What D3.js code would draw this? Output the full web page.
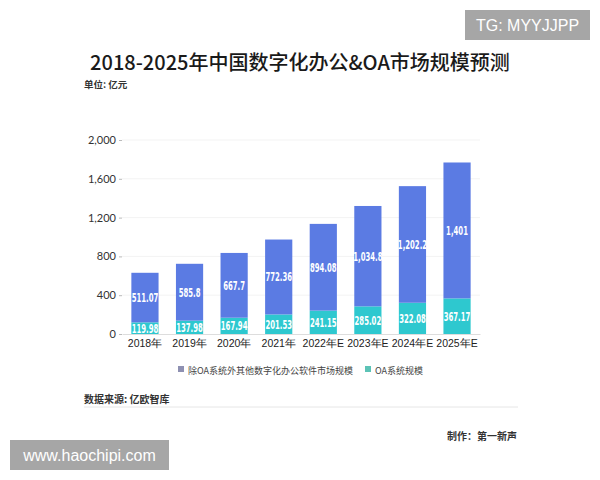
<!DOCTYPE html>
<html><head><meta charset="utf-8">
<script src="https://cdn.jsdelivr.net/npm/d3@7"></script>
<style>
body{margin:0;background:#fff;}
svg{display:block;font-family:"Noto Sans CJK SC","Noto Sans",sans-serif;}
</style></head>
<body><svg id="c" width="600" height="480"></svg>
<script>
const categories = ["2018年","2019年","2020年","2021年","2022年E","2023年E","2024年E","2025年E"];
const oaValues = [119.98,137.98,167.94,201.53,241.15,285.02,322.08,367.17];
const otherValues = [511.07,585.8,667.7,772.36,894.08,1034.8,1202.2,1401];
const otherLabels = ["511.07","585.8","667.7","772.36","894.08","1,034.8","1,202.2","1,401"];
const oaLabels = ["119.98","137.98","167.94","201.53","241.15","285.02","322.08","367.17"];
const yTicks = [0,400,800,1200,1600,2000];
const seriesNames = ["除OA系统外其他数字化办公软件市场规模","OA系统规模"];

const svg = d3.select("#c");
const blue = "#5b7be3", teal = "#2ec8cf";

const x = d3.scaleBand().domain(categories).range([122,480]).paddingInner(0.39).paddingOuter(0.21);
const y = d3.scaleLinear().domain([0,2000]).range([334,140]);

// title
svg.append("text").attr("x",300).attr("y",70).attr("text-anchor","middle")
  .attr("font-size",20).attr("font-weight",500).attr("fill","#1a1a1a")
  .text("2018-2025年中国数字化办公&OA市场规模预测");
svg.append("text").attr("x",84).attr("y",88).attr("font-size",9.5).attr("font-weight","bold").attr("fill","#333").text("单位: 亿元");

// grid
svg.append("g").selectAll("line").data(yTicks.slice(1)).join("line")
  .attr("x1",122).attr("x2",480).attr("y1",d=>y(d)).attr("y2",d=>y(d))
  .attr("stroke","#f3f3f3").attr("stroke-width",1);

// y axis
const ya = svg.append("g").attr("transform","translate(122,0)")
  .call(d3.axisLeft(y).tickValues(yTicks).tickSize(3).tickPadding(3).tickFormat(d3.format(",")));
ya.select(".domain").remove();
ya.selectAll(".tick line").attr("stroke","#bbb");
ya.selectAll("text").attr("font-size",11).attr("fill","#333").attr("font-family","Lato, 'Noto Sans', sans-serif");

// bars
const stackData = categories.map((c,i)=>({c, oa:oaValues[i], other:otherValues[i]}));
const g = svg.append("g");
g.selectAll(".oa").data(stackData).join("rect")
  .attr("x",d=>x(d.c)).attr("width",x.bandwidth())
  .attr("y",d=>y(d.oa)).attr("height",d=>y(0)-y(d.oa)).attr("fill",teal);
g.selectAll(".ot").data(stackData).join("rect")
  .attr("x",d=>x(d.c)).attr("width",x.bandwidth())
  .attr("y",d=>y(d.oa+d.other)).attr("height",d=>y(d.oa)-y(d.oa+d.other)).attr("fill",blue);

// labels (condensed by measuring and shrinking horizontally)
function condense(sel){
  sel.each(function(){
    const w = this.getComputedTextLength();
    d3.select(this).attr("textLength", w*0.6).attr("lengthAdjust","spacingAndGlyphs");
  });
}
g.selectAll(".lo").data(stackData).join("text")
  .attr("x",d=>x(d.c)+x.bandwidth()/2).attr("y",d=>y(d.oa/2)+4.5)
  .attr("text-anchor","middle").attr("font-size",11.5).attr("font-weight","bold").attr("fill","#fff")
  .attr("font-family","'DejaVu Sans',sans-serif")
  .text((d,i)=>oaLabels[i]).call(condense);
g.selectAll(".lt").data(stackData).join("text")
  .attr("x",d=>x(d.c)+x.bandwidth()/2).attr("y",d=>y(d.oa+d.other/2)+4.5)
  .attr("text-anchor","middle").attr("font-size",11.5).attr("font-weight","bold").attr("fill","#fff")
  .attr("font-family","'DejaVu Sans',sans-serif")
  .text((d,i)=>otherLabels[i]).call(condense);

// x axis
const xa = svg.append("g").attr("transform","translate(0,334)")
  .call(d3.axisBottom(x).tickSize(0).tickPadding(6));
xa.select(".domain").attr("stroke","#ddd");
xa.selectAll("text").attr("font-size",10.5).attr("fill","#222").attr("font-weight",500);

// legend
const leg = [{n:seriesNames[0],c:"#8e90b2",x:178},{n:seriesNames[1],c:"#5cc3b6",x:365}];
const lg = svg.append("g").selectAll("g").data(leg).join("g").attr("transform",d=>`translate(${d.x},370)`);
lg.append("rect").attr("x",0).attr("y",-4).attr("width",6).attr("height",6).attr("fill",d=>d.c);
lg.append("text").attr("x",10).attr("y",3.5).attr("font-size",9).attr("fill","#444").text(d=>d.n);

// source
svg.append("text").attr("x",84).attr("y",403).attr("font-size",10).attr("font-weight","bold").attr("fill","#333").text("数据来源: 亿欧智库");
svg.append("line").attr("x1",84).attr("x2",518).attr("y1",407).attr("y2",407).attr("stroke","#e6e6e6");
svg.append("text").attr("x",517).attr("y",440).attr("text-anchor","end").attr("font-size",10).attr("font-weight","bold").attr("fill","#333").text("制作：第一新声");

// watermarks
svg.append("rect").attr("x",465).attr("y",10).attr("width",125).attr("height",30).attr("fill","#a6a6a6");
svg.append("text").attr("x",527.5).attr("y",31).attr("text-anchor","middle").attr("font-size",16).attr("fill","#fff").attr("font-family","'Liberation Sans',Arial,sans-serif").text("TG: MYYJJPP");
svg.append("rect").attr("x",10).attr("y",440).attr("width",159).attr("height",30).attr("fill","#a6a6a6");
svg.append("text").attr("x",89.5).attr("y",461).attr("text-anchor","middle").attr("font-size",16).attr("fill","#fff").attr("font-family","'Liberation Sans',Arial,sans-serif").text("www.haochipi.com");
</script></body></html>
